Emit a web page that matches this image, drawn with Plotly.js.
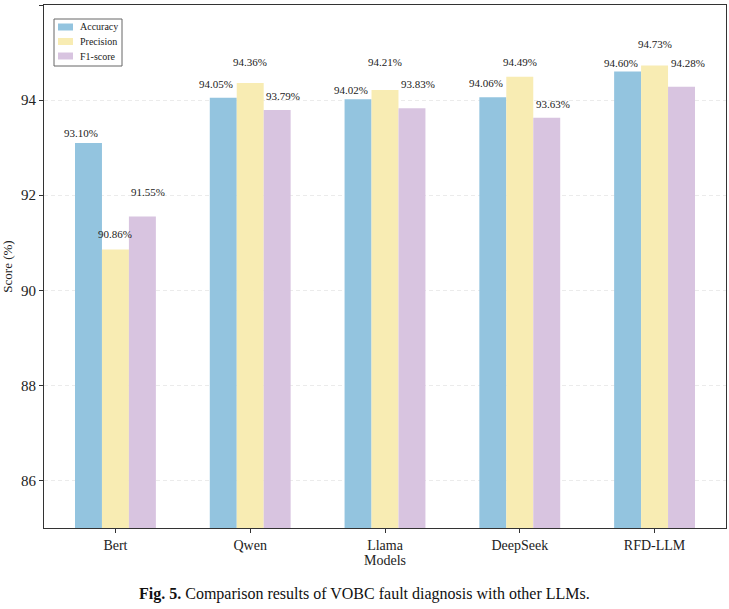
<!DOCTYPE html>
<html>
<head>
<meta charset="utf-8">
<script src="https://cdn.plot.ly/plotly-3.0.1.min.js"></script>
<style>
html,body{margin:0;padding:0;background:#fff;}
#chart{width:729px;height:609px;}
</style>
</head>
<body>
<div id="chart"></div>
<script>
const models = ["Bert", "Qwen", "Llama", "DeepSeek", "RFD-LLM"];
const accuracy = [93.10, 94.05, 94.02, 94.06, 94.60];
const precision = [90.86, 94.36, 94.21, 94.49, 94.73];
const f1score = [91.55, 93.79, 93.83, 93.63, 94.28];
const seriesNames = ["Accuracy", "Precision", "F1-score"];
const seriesValues = [accuracy, precision, f1score];
const colors = ["#93c4df", "#f8ecb3", "#d8c4e0"];
// label vertical pixel offsets above bar tops (style only)
const labelLift = [
  [10, 14, 9, 14, 9],
  [15, 21, 28, 15, 21],
  [25, 14, 24, 14, 24]
];
const labelShiftX = [-7, 0, 6];
const barW = 0.2;

const font = "Liberation Serif, Times New Roman, serif";
const xIdx = models.map((_, i) => i);

const W = 729, H = 609;
const M = {l: 44, r: 3, t: 5, b: 81};
const PW = W - M.l - M.r, PH = H - M.t - M.b;
const px = v => (v - M.l) / PW;
const py = v => 1 - (v - M.t) / PH;

const traces = seriesValues.map((vals, s) => ({
  type: "bar",
  name: seriesNames[s],
  x: xIdx.map(i => i + (s - 1) * barW),
  y: vals,
  width: barW,
  marker: {color: colors[s], line: {width: 0}},
  hoverinfo: "y",
  showlegend: false
}));

const annotations = [];
const shapes = [];
seriesValues.forEach((vals, s) => {
  vals.forEach((v, i) => {
    annotations.push({
      x: i + (s - 1) * barW, y: v, xref: "x", yref: "y",
      text: v.toFixed(2) + "%", showarrow: false,
      yanchor: "middle", yshift: labelLift[s][i], xshift: labelShiftX[s],
      font: {family: font, size: 11, color: "#222"}
    });
  });
});
// caption
annotations.push({
  xref: "paper", yref: "paper", x: 0.47, y: py(594), xanchor: "center", yanchor: "middle",
  showarrow: false,
  text: "<b>Fig. 5.</b> Comparison results of VOBC fault diagnosis with other LLMs.",
  font: {family: font, size: 16, color: "#111"}
});
// legend box
shapes.push({
  type: "rect", xref: "paper", yref: "paper",
  x0: px(54), x1: px(122), y0: py(19), y1: py(66),
  line: {color: "#666", width: 1}, fillcolor: "#fff", layer: "above"
});
seriesNames.forEach((n, s) => {
  const cy = 27 + s * 14.5;
  shapes.push({
    type: "rect", xref: "paper", yref: "paper",
    x0: px(58), x1: px(73), y0: py(cy - 3.5), y1: py(cy + 3.5),
    line: {width: 0}, fillcolor: colors[s], layer: "above"
  });
  annotations.push({
    xref: "paper", yref: "paper", x: px(78), y: py(cy), xanchor: "left", yanchor: "middle",
    showarrow: false, text: n, font: {family: font, size: 10, color: "#222"}
  });
});

const layout = {
  width: W, height: H,
  margin: M,
  paper_bgcolor: "#fff", plot_bgcolor: "#fff",
  barmode: "overlay",
  showlegend: false,
  xaxis: {
    range: [-0.53, 4.53],
    tickmode: "array", tickvals: xIdx, ticktext: models,
    ticks: "outside", ticklen: 4, tickcolor: "#333",
    showgrid: false, zeroline: false,
    showline: true, linecolor: "#333", linewidth: 1, mirror: true,
    tickfont: {family: font, size: 14, color: "#222"},
    title: {text: "Models", font: {family: font, size: 14, color: "#222"}, standoff: 2}
  },
  yaxis: {
    range: [85, 96],
    tickvals: [86, 88, 90, 92, 94, 96],
    ticks: "outside", ticklen: 4, tickcolor: "#333",
    showgrid: true, gridcolor: "#ebebeb", griddash: "4px,3px", gridwidth: 1,
    zeroline: false,
    showline: true, linecolor: "#333", linewidth: 1, mirror: true,
    tickfont: {family: font, size: 15, color: "#222"},
    title: {text: "Score (%)", font: {family: font, size: 13, color: "#222"}, standoff: 6}
  },
  shapes: shapes,
  annotations: annotations
};

Plotly.newPlot("chart", traces, layout, {displayModeBar: false, staticPlot: true});
</script>
</body>
</html>
